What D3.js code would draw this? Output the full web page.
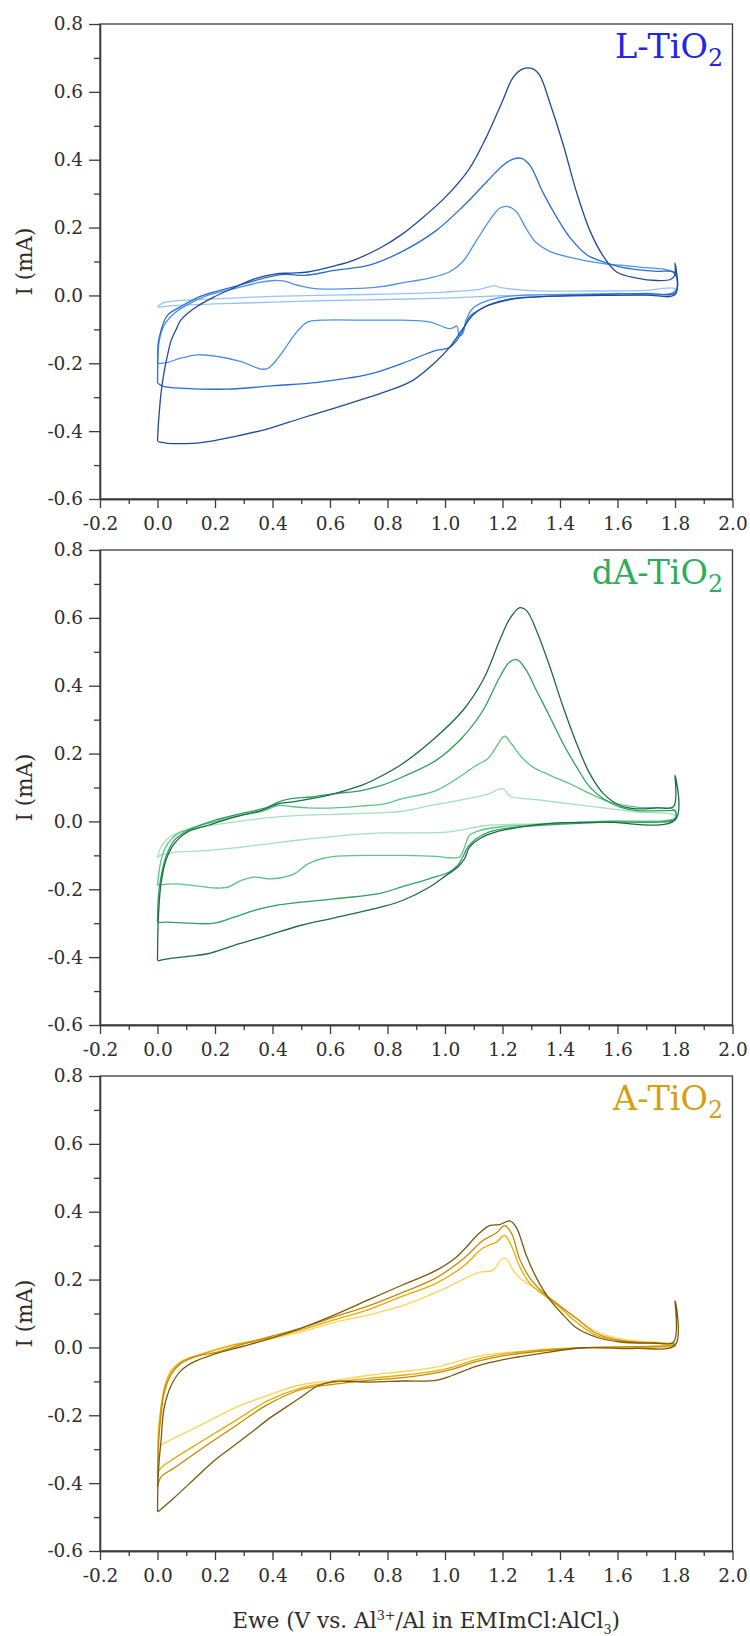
<!DOCTYPE html>
<html><head><meta charset="utf-8">
<script src="https://cdn.jsdelivr.net/npm/d3@7"></script>
<style>
body{margin:0;background:#fff}
svg{display:block}
text{font-family:"DejaVu Serif","Liberation Serif",serif}
</style>
</head><body>
<svg id="chart" width="750" height="1636"></svg>
<script>
// ---------- tick labels ----------
const xTickValues = [-0.2,0.0,0.2,0.4,0.6,0.8,1.0,1.2,1.4,1.6,1.8,2.0];
const yTickValues = [-0.6,-0.4,-0.2,0.0,0.2,0.4,0.6,0.8];
const xMinorValues = [-0.1,0.1,0.3,0.5,0.7,0.9,1.1,1.3,1.5,1.7,1.9];
const yMinorValues = [-0.5,-0.3,-0.1,0.1,0.3,0.5,0.7];
const panelLabels = ["L-TiO", "dA-TiO", "A-TiO"];
const xTitle = "Ewe (V vs. Al";
const yTitle = "I (mA)";

// ---------- series: [E (V), I (mA)] ----------
// L-TiO2 cycles (dark -> light)
const L_cycle1 = [[0,-0.43],[0.003,-0.38],[0.006,-0.347],[0.012,-0.29],[0.023,-0.225],[0.035,-0.175],[0.047,-0.134],[0.065,-0.10],[0.081,-0.073],[0.128,-0.038],[0.198,-0.004],[0.267,0.023],[0.337,0.049],[0.407,0.063],[0.465,0.066],[0.523,0.069],[0.616,0.087],[0.686,0.105],[0.779,0.142],[0.85,0.18],[0.911,0.221],[1.004,0.292],[1.085,0.374],[1.143,0.465],[1.202,0.577],[1.237,0.643],[1.271,0.668],[1.306,0.668],[1.330,0.648],[1.365,0.567],[1.411,0.445],[1.458,0.303],[1.504,0.191],[1.551,0.115],[1.597,0.069],[1.667,0.051],[1.737,0.044],[1.784,0.047],[1.799,0.059],[1.8,0.095],[1.801,0.003],[1.7,0.001],[1.551,0.0],[1.376,-0.002],[1.260,-0.008],[1.202,-0.017],[1.143,-0.032],[1.097,-0.058],[1.062,-0.098],[1.015,-0.154],[0.969,-0.195],[0.887,-0.251],[0.806,-0.28],[0.736,-0.300],[0.616,-0.332],[0.5,-0.362],[0.384,-0.393],[0.267,-0.416],[0.151,-0.434],[0.08,-0.437],[0.035,-0.436],[0.001,-0.431]];
const L_cycle2 = [[0,-0.258],[0.001,-0.20],[0.002,-0.144],[0.012,-0.104],[0.035,-0.058],[0.081,-0.033],[0.151,-0.002],[0.267,0.026],[0.384,0.054],[0.442,0.062],[0.512,0.059],[0.616,0.074],[0.736,0.089],[0.852,0.130],[0.969,0.191],[1.062,0.262],[1.143,0.333],[1.202,0.384],[1.237,0.402],[1.266,0.404],[1.295,0.384],[1.341,0.303],[1.388,0.231],[1.434,0.171],[1.493,0.120],[1.551,0.099],[1.609,0.084],[1.667,0.076],[1.737,0.071],[1.799,0.067],[1.801,0.008],[1.7,0.006],[1.551,0.003],[1.318,-0.004],[1.225,-0.010],[1.155,-0.027],[1.108,-0.048],[1.085,-0.063],[1.062,-0.104],[1.044,-0.129],[1.015,-0.154],[0.969,-0.162],[0.852,-0.200],[0.733,-0.233],[0.558,-0.256],[0.407,-0.266],[0.244,-0.276],[0.093,-0.274],[0.02,-0.268],[0.001,-0.259]];
const L_cycle3 = [[0,-0.2],[0.002,-0.17],[0.006,-0.134],[0.023,-0.088],[0.058,-0.053],[0.105,-0.027],[0.174,0.0],[0.267,0.020],[0.360,0.039],[0.407,0.044],[0.442,0.042],[0.488,0.030],[0.547,0.020],[0.674,0.020],[0.779,0.026],[0.852,0.037],[0.945,0.051],[1.015,0.069],[1.062,0.100],[1.108,0.160],[1.155,0.221],[1.190,0.257],[1.219,0.262],[1.248,0.247],[1.283,0.196],[1.318,0.155],[1.365,0.130],[1.434,0.112],[1.551,0.094],[1.667,0.084],[1.799,0.064],[1.801,0.013],[1.6,0.005],[1.434,0.003],[1.225,-0.002],[1.143,-0.017],[1.097,-0.038],[1.073,-0.073],[1.062,-0.112],[1.050,-0.119],[1.041,-0.09],[1.03,-0.095],[1.015,-0.098],[0.945,-0.078],[0.852,-0.073],[0.736,-0.073],[0.570,-0.073],[0.523,-0.078],[0.488,-0.104],[0.453,-0.144],[0.419,-0.185],[0.384,-0.215],[0.360,-0.217],[0.291,-0.195],[0.209,-0.180],[0.14,-0.175],[0.081,-0.185],[0.035,-0.197],[0.001,-0.201]];
const L_cycle4 = [[0,-0.033],[0.02,-0.022],[0.06,-0.016],[0.2,-0.010],[0.4,-0.003],[0.6,0.001],[0.8,0.004],[1.0,0.010],[1.12,0.018],[1.17,0.028],[1.2,0.022],[1.3,0.014],[1.5,0.013],[1.7,0.015],[1.799,0.02],[1.801,0.008],[1.6,0.006],[1.4,0.003],[1.2,-0.001],[1.0,-0.008],[0.8,-0.012],[0.6,-0.015],[0.4,-0.02],[0.2,-0.025],[0.05,-0.03],[0.001,-0.035]];

// dA-TiO2 cycles
const dA_cycle1 = [[0,-0.410],[0.002,-0.302],[0.006,-0.24],[0.012,-0.184],[0.029,-0.115],[0.058,-0.066],[0.105,-0.031],[0.174,-0.012],[0.267,0.013],[0.360,0.032],[0.419,0.052],[0.465,0.057],[0.535,0.067],[0.616,0.082],[0.709,0.106],[0.779,0.134],[0.852,0.170],[0.969,0.249],[1.062,0.327],[1.132,0.416],[1.190,0.533],[1.225,0.597],[1.260,0.630],[1.283,0.622],[1.318,0.563],[1.365,0.455],[1.411,0.337],[1.458,0.229],[1.504,0.140],[1.551,0.082],[1.609,0.047],[1.667,0.037],[1.737,0.040],[1.795,0.044],[1.8,0.136],[1.801,0.005],[1.551,-0.002],[1.376,-0.005],[1.260,-0.017],[1.178,-0.031],[1.120,-0.051],[1.085,-0.076],[1.068,-0.110],[1.044,-0.135],[1.004,-0.159],[0.945,-0.194],[0.852,-0.233],[0.779,-0.252],[0.616,-0.284],[0.5,-0.306],[0.384,-0.336],[0.267,-0.365],[0.174,-0.390],[0.105,-0.398],[0.035,-0.405],[0.001,-0.411]];
const dA_cycle2 = [[0,-0.297],[0.003,-0.223],[0.012,-0.164],[0.029,-0.105],[0.058,-0.056],[0.105,-0.027],[0.198,0.003],[0.291,0.023],[0.384,0.042],[0.419,0.057],[0.465,0.067],[0.535,0.072],[0.616,0.082],[0.709,0.091],[0.779,0.106],[0.852,0.131],[0.969,0.180],[1.062,0.249],[1.132,0.327],[1.190,0.425],[1.225,0.470],[1.252,0.476],[1.283,0.445],[1.318,0.386],[1.365,0.308],[1.411,0.229],[1.458,0.160],[1.504,0.101],[1.551,0.067],[1.609,0.042],[1.667,0.032],[1.784,0.032],[1.799,0.032],[1.801,0.008],[1.551,-0.002],[1.318,-0.012],[1.225,-0.019],[1.155,-0.031],[1.108,-0.051],[1.079,-0.076],[1.062,-0.105],[1.044,-0.130],[1.015,-0.149],[0.945,-0.169],[0.852,-0.192],[0.779,-0.211],[0.616,-0.228],[0.5,-0.238],[0.407,-0.248],[0.337,-0.262],[0.267,-0.282],[0.198,-0.300],[0.105,-0.300],[0.035,-0.297],[0.001,-0.298]];
const dA_cycle3 = [[0,-0.189],[0.006,-0.144],[0.017,-0.100],[0.035,-0.066],[0.070,-0.036],[0.128,-0.017],[0.209,0.001],[0.291,0.018],[0.372,0.032],[0.419,0.047],[0.465,0.044],[0.523,0.040],[0.616,0.040],[0.733,0.047],[0.779,0.050],[0.852,0.067],[0.969,0.091],[1.050,0.131],[1.108,0.165],[1.149,0.185],[1.178,0.219],[1.207,0.251],[1.231,0.229],[1.266,0.190],[1.306,0.160],[1.365,0.136],[1.434,0.111],[1.504,0.082],[1.574,0.057],[1.667,0.042],[1.799,0.034],[1.801,0.011],[1.551,0.001],[1.318,-0.009],[1.202,-0.015],[1.120,-0.027],[1.085,-0.041],[1.068,-0.076],[1.050,-0.105],[1.015,-0.107],[0.969,-0.103],[0.852,-0.100],[0.779,-0.100],[0.616,-0.103],[0.570,-0.110],[0.523,-0.125],[0.477,-0.154],[0.430,-0.166],[0.384,-0.169],[0.337,-0.164],[0.291,-0.174],[0.244,-0.194],[0.198,-0.196],[0.128,-0.189],[0.058,-0.184],[0.001,-0.188]];
const dA_cycle4 = [[0,-0.107],[0.012,-0.076],[0.035,-0.051],[0.081,-0.031],[0.151,-0.017],[0.267,-0.002],[0.384,0.011],[0.5,0.018],[0.616,0.021],[0.779,0.026],[0.852,0.030],[0.969,0.050],[1.062,0.064],[1.155,0.082],[1.190,0.096],[1.207,0.094],[1.225,0.075],[1.318,0.064],[1.434,0.052],[1.551,0.040],[1.667,0.028],[1.799,0.018],[1.801,0.005],[1.551,-0.002],[1.318,-0.007],[1.143,-0.012],[1.015,-0.031],[0.852,-0.034],[0.779,-0.034],[0.616,-0.044],[0.5,-0.054],[0.384,-0.066],[0.267,-0.078],[0.151,-0.087],[0.058,-0.091],[0.01,-0.1],[0.001,-0.107]];

// A-TiO2 cycles
const A_cycle1 = [[0,-0.484],[0.002,-0.388],[0.006,-0.33],[0.012,-0.278],[0.023,-0.179],[0.047,-0.113],[0.081,-0.069],[0.128,-0.042],[0.198,-0.020],[0.291,0.002],[0.384,0.024],[0.5,0.057],[0.616,0.096],[0.733,0.140],[0.852,0.184],[0.969,0.227],[1.039,0.266],[1.120,0.337],[1.155,0.359],[1.190,0.362],[1.225,0.373],[1.248,0.354],[1.283,0.271],[1.318,0.205],[1.365,0.140],[1.411,0.096],[1.458,0.057],[1.527,0.030],[1.609,0.016],[1.725,0.013],[1.795,0.016],[1.8,0.137],[1.801,0.008],[1.667,-0.003],[1.481,-0.001],[1.318,-0.020],[1.202,-0.036],[1.108,-0.056],[1.027,-0.082],[0.969,-0.097],[0.852,-0.099],[0.736,-0.102],[0.616,-0.100],[0.558,-0.113],[0.5,-0.146],[0.442,-0.179],[0.384,-0.212],[0.326,-0.251],[0.267,-0.289],[0.198,-0.333],[0.128,-0.388],[0.058,-0.443],[0.001,-0.485]];
const A_cycle2 = [[0,-0.410],[0.004,-0.278],[0.012,-0.201],[0.023,-0.135],[0.047,-0.080],[0.081,-0.047],[0.140,-0.025],[0.209,-0.014],[0.291,0.008],[0.384,0.030],[0.5,0.057],[0.616,0.090],[0.736,0.123],[0.852,0.162],[0.969,0.205],[1.062,0.260],[1.132,0.315],[1.178,0.337],[1.207,0.359],[1.231,0.337],[1.260,0.260],[1.295,0.205],[1.341,0.162],[1.399,0.123],[1.458,0.085],[1.527,0.041],[1.620,0.019],[1.725,0.013],[1.799,0.010],[1.801,0.008],[1.481,-0.001],[1.318,-0.012],[1.202,-0.025],[1.108,-0.042],[1.027,-0.064],[0.969,-0.075],[0.852,-0.089],[0.736,-0.097],[0.616,-0.108],[0.5,-0.124],[0.384,-0.168],[0.267,-0.234],[0.151,-0.300],[0.058,-0.355],[0.012,-0.382],[0.001,-0.411]];
const A_cycle3 = [[0,-0.371],[0.004,-0.256],[0.012,-0.179],[0.026,-0.113],[0.047,-0.069],[0.081,-0.042],[0.151,-0.020],[0.267,0.008],[0.384,0.027],[0.5,0.052],[0.616,0.082],[0.736,0.112],[0.852,0.151],[0.969,0.189],[1.062,0.238],[1.132,0.293],[1.178,0.310],[1.207,0.330],[1.231,0.299],[1.260,0.238],[1.295,0.189],[1.341,0.156],[1.399,0.118],[1.458,0.074],[1.527,0.035],[1.620,0.019],[1.799,0.008],[1.801,0.006],[1.481,-0.001],[1.318,-0.008],[1.202,-0.020],[1.108,-0.036],[1.027,-0.058],[0.969,-0.069],[0.852,-0.082],[0.736,-0.091],[0.616,-0.102],[0.5,-0.119],[0.384,-0.157],[0.267,-0.218],[0.151,-0.278],[0.058,-0.327],[0.012,-0.355],[0.001,-0.372]];
const A_cycle4 = [[0,-0.289],[0.004,-0.234],[0.012,-0.179],[0.023,-0.124],[0.047,-0.078],[0.081,-0.047],[0.151,-0.023],[0.267,0.005],[0.384,0.024],[0.5,0.046],[0.616,0.074],[0.736,0.096],[0.852,0.123],[0.969,0.162],[1.062,0.200],[1.120,0.222],[1.166,0.227],[1.196,0.260],[1.213,0.262],[1.237,0.227],[1.266,0.200],[1.318,0.173],[1.388,0.129],[1.458,0.085],[1.527,0.046],[1.620,0.024],[1.799,0.008],[1.801,0.004],[1.481,-0.001],[1.318,-0.010],[1.202,-0.016],[1.108,-0.027],[1.027,-0.045],[0.969,-0.058],[0.852,-0.071],[0.736,-0.082],[0.616,-0.097],[0.5,-0.110],[0.384,-0.141],[0.267,-0.179],[0.151,-0.229],[0.058,-0.267],[0.012,-0.287],[0.001,-0.29]];

// ---------- styling ----------
const panelColors = ["#2424ea", "#2eac5c", "#d4a010"];
const cycleColors = [
  ["#1f4c98", "#2a6cd6", "#4f92e6", "#98c4f4"],
  ["#1c6b43", "#2ea15d", "#5cc486", "#a2e1bd"],
  ["#7a5a0c", "#c28c00", "#e8aa00", "#ffd257"]
];
const panelSeries = [
  [L_cycle1, L_cycle2, L_cycle3, L_cycle4],
  [dA_cycle1, dA_cycle2, dA_cycle3, dA_cycle4],
  [A_cycle1, A_cycle2, A_cycle3, A_cycle4]
];

const svg = d3.select("#chart");
const left = 100, right = 732.5, plotH = 475;
const tops = [24, 550, 1076];
const axisColor = "#3b3b3b", textColor = "#2e2e2e";
const fmt = d => d.toFixed(1);
const clamp = (v, lo, hi) => Math.max(lo, Math.min(hi, v));

const x = d3.scaleLinear().domain([-0.2, 2.0]).range([left, right]);

const tickTexts = [], yTitles = [], panelTexts = [];

tops.forEach((top, p) => {
  const y = d3.scaleLinear().domain([-0.6, 0.8]).range([top + plotH, top]);
  const g = svg.append("g");

  g.append("rect").attr("x", left).attr("y", top).attr("width", right - left).attr("height", plotH)
    .attr("fill", "none").attr("stroke", axisColor).attr("stroke-width", 1.3);

  const line = d3.line().x(d => x(d[0])).y(d => y(d[1])).curve(d3.curveCatmullRom.alpha(0.5));
  const series = panelSeries[p];
  for (let i = series.length - 1; i >= 0; i--) {
    g.append("path").attr("d", line(series[i])).attr("fill", "none")
      .attr("stroke", cycleColors[p][i]).attr("stroke-width", 1.3).attr("stroke-linejoin", "round");
  }

  const xa = g.append("g").attr("transform", `translate(0,${top + plotH})`)
    .call(d3.axisBottom(x).tickValues(xTickValues).tickFormat(fmt).tickSize(9).tickPadding(9).tickSizeOuter(0));
  const xm = g.append("g").attr("transform", `translate(0,${top + plotH})`)
    .call(d3.axisBottom(x).tickValues(xMinorValues).tickFormat("").tickSize(5).tickSizeOuter(0));
  const ya = g.append("g").attr("transform", `translate(${left},0)`)
    .call(d3.axisLeft(y).tickValues(yTickValues).tickFormat(fmt).tickSize(11).tickPadding(6).tickSizeOuter(0));
  const ym = g.append("g").attr("transform", `translate(${left},0)`)
    .call(d3.axisLeft(y).tickValues(yMinorValues).tickFormat("").tickSize(6).tickSizeOuter(0));
  [xa, xm, ya, ym].forEach(a => {
    a.selectAll("path").attr("stroke", axisColor).attr("stroke-width", 1.3);
    a.selectAll("line").attr("stroke", axisColor).attr("stroke-width", 1.3);
    a.selectAll("text").attr("fill", textColor).style("font-size", "18px").style("font-family", '"DejaVu Serif",serif');
  });
  tickTexts.push(xa.selectAll("text"), ya.selectAll("text"));

  const yt = g.append("text").attr("transform", `translate(32,${top + plotH / 2}) rotate(-90)`)
    .attr("text-anchor", "middle").attr("fill", textColor).style("font-size", "21px").text(yTitle);
  yTitles.push(yt);

  const lab = g.append("text").attr("x", 723).attr("y", top + 34).attr("text-anchor", "end")
    .attr("fill", panelColors[p]).style("font-size", "34px");
  lab.append("tspan").text(panelLabels[p]);
  lab.append("tspan").attr("class", "sub").attr("dy", 8).style("font-size", "24px").text("2");
  panelTexts.push(lab);
});

// --- fit font sizes to the reference's measured text widths ---
// tick labels: "0.8" is ~29.4px wide in the reference
const refTick = tickTexts[1].filter(d => Math.abs(d - 0.8) < 1e-6).node();
const tickFs = clamp(18 * 29.4 / refTick.getBBox().width, 15, 24);
tickTexts.forEach(t => t.style("font-size", tickFs + "px"));

// y title: ~68px long
const ytFs = clamp(21 * 68 / yTitles[0].node().getBBox().width, 18, 26);
yTitles.forEach(t => t.style("font-size", ytFs + "px"));

// panel label: "L-TiO2" ~108px wide
const labScale = clamp(108 / panelTexts[0].node().getBBox().width, 0.8, 1.25);
panelTexts.forEach(t => {
  t.style("font-size", (34 * labScale) + "px");
  t.select(".sub").style("font-size", (24 * labScale) + "px").attr("dy", 8 * labScale);
});

// x title
const xt = svg.append("text").attr("x", 620).attr("y", 1628).attr("text-anchor", "end")
  .attr("fill", textColor).style("font-size", "22px");
xt.append("tspan").text(xTitle);
const sup = xt.append("tspan").attr("dy", -8).style("font-size", "13px").text("3+");
const mid = xt.append("tspan").attr("dy", 8).text("/Al in EMImCl:AlCl");
const sub = xt.append("tspan").attr("dy", 6).style("font-size", "13px").text("3");
const end = xt.append("tspan").attr("dy", -6).text(")");
const xtScale = clamp(388 / xt.node().getBBox().width, 0.8, 1.3);
xt.style("font-size", (22 * xtScale) + "px");
sup.style("font-size", (13 * xtScale) + "px").attr("dy", -8 * xtScale);
mid.attr("dy", 8 * xtScale);
sub.style("font-size", (13 * xtScale) + "px").attr("dy", 6 * xtScale);
end.attr("dy", -6 * xtScale);
</script>
</body></html>
